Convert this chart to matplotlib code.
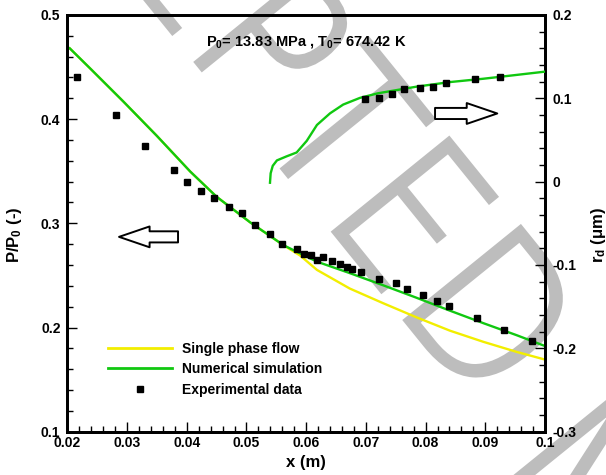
import matplotlib
matplotlib.use("Agg")
from matplotlib import pyplot as plt
from matplotlib.lines import Line2D
from matplotlib.ticker import MultipleLocator
from matplotlib.textpath import TextPath
from matplotlib.patches import PathPatch
from matplotlib.font_manager import FontProperties
from matplotlib.transforms import Affine2D

# pressure ratio, numerical simulation
x_sim = [0.0204, 0.0238, 0.0294, 0.0350, 0.0406, 0.0450, 0.0506, 0.0562, 0.0618,
         0.0673, 0.0729, 0.0785, 0.0841, 0.0897, 0.0953, 0.1000]
p_sim = [0.468, 0.4488, 0.4168, 0.3839, 0.3496, 0.3255, 0.3010, 0.2790, 0.2632,
         0.2522, 0.2405, 0.2285, 0.2161, 0.2041, 0.1925, 0.1822]

# pressure ratio, single phase flow
x_single = [0.0204, 0.0238, 0.0294, 0.0350, 0.0406, 0.0450, 0.0506, 0.0562, 0.0590,
            0.0618, 0.0673, 0.0729, 0.0785, 0.0841, 0.0897, 0.0953, 0.1000]
p_single = [0.468, 0.4488, 0.4168, 0.3839, 0.3496, 0.3255, 0.3010, 0.2790, 0.2690,
            0.2553, 0.2374, 0.2233, 0.2097, 0.1969, 0.1862, 0.1765, 0.1692]

# pressure ratio, experiment
x_exp = [0.0216, 0.0282, 0.0330, 0.0378, 0.0401, 0.0424, 0.0446, 0.0471, 0.0492,
         0.0514, 0.0539, 0.0560, 0.0584, 0.0596, 0.0608, 0.0618, 0.0629, 0.0643,
         0.0657, 0.0668, 0.0676, 0.0692, 0.0722, 0.0750, 0.0769, 0.0796, 0.0819,
         0.0840, 0.0886, 0.0931, 0.0978]
p_exp = [0.4408, 0.4037, 0.3743, 0.3515, 0.3400, 0.3314, 0.3241, 0.3154, 0.3097,
         0.2988, 0.2895, 0.2799, 0.2751, 0.2706, 0.2697, 0.2649, 0.2675, 0.2639,
         0.2610, 0.2579, 0.2562, 0.2534, 0.2466, 0.2431, 0.2370, 0.2316, 0.2252,
         0.2210, 0.2089, 0.1974, 0.1869]

# droplet radius, numerical simulation
x_rd = [0.05394, 0.05405, 0.0544, 0.0551, 0.0567, 0.0584, 0.0601, 0.0618,
        0.0640, 0.0662, 0.0690, 0.0720, 0.0785, 0.0841, 0.0897, 0.1000]
rd_sim = [-0.0013, 0.010, 0.019, 0.0255, 0.0303, 0.0350, 0.0490, 0.0680,
          0.0820, 0.0925, 0.1005, 0.1060, 0.1140, 0.1195, 0.1235, 0.1320]

# droplet radius, experiment
x_rd_exp = [0.0699, 0.0722, 0.0744, 0.0764, 0.0791, 0.0813, 0.0834, 0.0882, 0.0925]
rd_exp = [0.0988, 0.1000, 0.1052, 0.1108, 0.1128, 0.1140, 0.1188, 0.1232, 0.1256]

x_ticks = [0.02, 0.03, 0.04, 0.05, 0.06, 0.07, 0.08, 0.09, 0.1]
x_labels = ["0.02", "0.03", "0.04", "0.05", "0.06", "0.07", "0.08", "0.09", "0.1"]
p_ticks = [0.1, 0.2, 0.3, 0.4, 0.5]
p_labels = ["0.1", "0.2", "0.3", "0.4", "0.5"]
rd_ticks = [-0.3, -0.2, -0.1, 0, 0.1, 0.2]
rd_labels = ["-0.3", "-0.2", "-0.1", "0", "0.1", "0.2"]

GREEN = "#10c810"
YELLOW = "#f2ee00"
GREY = "#bdbdbd"


def watermark(fig, text, ref_letters, target, angle=-51, sx=180, sy=203):
    """Stamp a grey rotated word behind the plot; the left edge of the ink of the
    last letter of ref_letters is put at target (image pixels from the top-left)."""
    fp = FontProperties(family="DejaVu Sans", weight="light")
    path = TextPath((0, 0), text, size=1, prop=fp)
    head = TextPath((0, 0), ref_letters, size=1, prop=fp).get_extents()
    last = TextPath((0, 0), ref_letters[-1], size=1, prop=fp).get_extents()
    u0 = head.x1 - last.width
    tr = (Affine2D().translate(-u0, 0).scale(sx, sy).rotate_deg(angle)
          .translate(target[0], 475 - target[1]))
    fig.add_artist(PathPatch(path, transform=tr, facecolor=GREY, edgecolor=GREY,
                             lw=3.4, zorder=-1))


def main():
    plt.rcParams["font.family"] = ["Liberation Sans", "DejaVu Sans"]
    plt.rcParams["font.weight"] = "bold"
    plt.rcParams["mathtext.fontset"] = "custom"
    plt.rcParams["mathtext.rm"] = "Liberation Sans:bold"
    plt.rcParams["mathtext.it"] = "Liberation Sans:bold"
    plt.rcParams["mathtext.bf"] = "Liberation Sans:bold"

    fig = plt.figure(figsize=(6.06, 4.75), dpi=100)
    ax = fig.add_axes([0.1111, 0.0912, 0.7883, 0.8773])
    ax.set_facecolor("none")
    ax2 = ax.twinx()

    ax.plot(x_single, p_single, color=YELLOW, lw=1.7, zorder=2)
    ax.plot(x_sim, p_sim, color=GREEN, lw=1.7, zorder=3)
    ax.plot(x_exp, p_exp, "s", color="black", ms=4.6, zorder=4)
    ax2.plot(x_rd, rd_sim, color=GREEN, lw=1.7, zorder=3)
    ax2.plot(x_rd_exp, rd_exp, "s", color="black", ms=4.6, zorder=4)

    ax.set_xticks(x_ticks)
    ax.set_xticklabels(x_labels)
    ax.set_yticks(p_ticks)
    ax.set_yticklabels(p_labels)
    ax2.set_yticks(rd_ticks)
    ax2.set_yticklabels(rd_labels)
    ax.xaxis.set_minor_locator(MultipleLocator(0.002))
    ax.yaxis.set_minor_locator(MultipleLocator(0.02))
    ax2.yaxis.set_minor_locator(MultipleLocator(0.02))
    ax.set_xlim(0.02, 0.1)
    ax.set_ylim(0.1, 0.5)
    ax2.set_ylim(-0.3, 0.2)

    ax.tick_params(which="both", direction="in", top=False, right=False, width=1.0,
                   labelsize=10, colors="black")
    ax.tick_params(which="major", length=7.5)
    ax.tick_params(which="minor", length=4)
    ax.tick_params(axis="y", pad=5)
    ax.tick_params(axis="x", pad=3)
    ax2.tick_params(which="both", direction="in", width=1.0, labelsize=10, pad=5.5)
    ax2.tick_params(which="major", length=7.5)
    ax2.tick_params(which="minor", length=4)
    for a in (ax, ax2):
        for s in a.spines.values():
            s.set_linewidth(2)
            s.set_color("black")

    fig.text(15 / 606, 1 - 235 / 475, "P/P$_{0}$ (-)", rotation=90, fontsize=12,
             ha="center", va="center")
    fig.text(598 / 606, 1 - 235 / 475, "r$_{d}$ (\u03bcm)", rotation=90, fontsize=12,
             ha="center", va="center")
    fig.text(306 / 606, 1 - 462 / 475, "x (m)", fontsize=12, ha="center", va="center")

    ax.text(0.5, 0.935, "P$_{0}$= 13.83 MPa , T$_{0}$= 674.42 K", transform=ax.transAxes,
            fontsize=10.5, ha="center", va="center")

    # hollow direction arrows
    arrow = dict(arrowstyle="simple,head_length=2.2,head_width=1.5,tail_width=0.8",
                 fc="white", ec="black", lw=1.4, shrinkA=0, shrinkB=0, mutation_scale=10)
    ax.annotate("", xy=(0.02866, 0.287), xytext=(0.03854, 0.287), arrowprops=arrow)
    ax2.annotate("", xy=(0.0920, 0.0818), xytext=(0.08158, 0.0818), arrowprops=arrow)

    handles = [Line2D([], [], color=YELLOW, lw=2),
               Line2D([], [], color=GREEN, lw=2),
               Line2D([], [], ls="none", marker="s", color="black", ms=4.8)]
    labels = ["Single phase flow", "Numerical simulation", "Experimental data"]
    ax2.legend(handles, labels, loc="upper left", bbox_to_anchor=(0.085, 0.215),
               frameon=False, fontsize=10, handlelength=4.6, handletextpad=0.7,
               labelspacing=0.45, borderpad=0, borderaxespad=0)

    # watermark of the accepted manuscript
    watermark(fig, "ACCEPTED", "ACCEPTE", (334, 232))
    watermark(fig, "MANUSCRIPT", "M", (511, 480))

    fig.savefig("out.png", dpi=100)


if __name__ == "__main__":
    main()
